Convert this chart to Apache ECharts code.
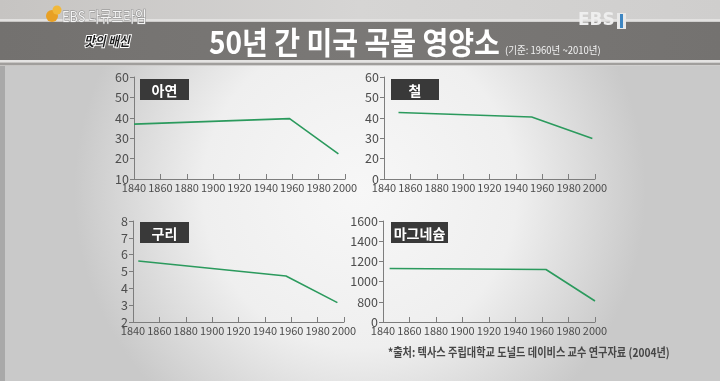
<!DOCTYPE html>
<html><head><meta charset="utf-8">
<script src="https://cdn.jsdelivr.net/npm/echarts@6/dist/echarts.min.js"></script>
<style>html,body{margin:0;padding:0;background:#d8d8d8}#c{width:720px;height:381px}</style>
</head><body><div id="c"></div>
<script>
// ---- data ----
const xTicks = [1840, 1860, 1880, 1900, 1920, 1940, 1960, 1980, 2000];
const panelTitles = ['아연', '철', '구리', '마그네슘'];
const zincYears = [1840, 1958, 1995];
const zincValues = [36.9, 39.6, 22.3];
const ironYears = [1851, 1952, 1998];
const ironValues = [42.6, 40.4, 29.8];
const copperYears = [1844, 1956, 1995];
const copperValues = [5.62, 4.73, 3.15];
const magnesiumYears = [1845, 1963, 2000];
const magnesiumValues = [1130, 1120, 808];
// y-axis ranges as printed (panels 2 and 4 label their lowest tick "0")
const yRanges = [[10, 60, 10], [10, 60, 10], [2, 8, 1], [600, 1600, 200]];
const yBottomLabels = [null, '0', null, '0'];
const titleText = '50년 간 미국 곡물 영양소';
const subText = '(기준: 1960년 ~2010년)';
const sourceText = '*출처: 텍사스 주립대학교 도널드 데이비스 교수 연구자료 (2004년)';

const chart = echarts.init(document.getElementById('c'), null, {renderer: 'canvas'});
const grids = [
  {left: 134, top: 77, width: 211, height: 102},
  {left: 384, top: 77, width: 211, height: 102},
  {left: 133, top: 221, width: 211, height: 101},
  {left: 383, top: 221, width: 212, height: 101}
];
const axisFont = "'Noto Sans CJK KR','Noto Sans',sans-serif";
const lineColor = '#2b9a5d';
const axisColor = '#7d7d7d';
const series = [[zincYears, zincValues], [ironYears, ironValues], [copperYears, copperValues], [magnesiumYears, magnesiumValues]];

const xAxis = grids.map((g, i) => ({
  type: 'value', gridIndex: i, min: xTicks[0], max: xTicks[xTicks.length - 1], interval: 20,
  axisLine: {lineStyle: {color: axisColor, width: 1}},
  axisTick: {show: true, inside: true, length: 5, lineStyle: {color: axisColor}},
  splitLine: {show: false},
  axisLabel: {color: '#4d4d4d', fontSize: 11, fontFamily: axisFont, margin: 3,
    interval: 0, showMinLabel: true, showMaxLabel: true, hideOverlap: false, formatter: v => String(v)}
}));
const yAxis = grids.map((g, i) => ({
  type: 'value', gridIndex: i, min: yRanges[i][0], max: yRanges[i][1], interval: yRanges[i][2],
  axisLine: {show: true, lineStyle: {color: axisColor, width: 1}},
  axisTick: {show: true, length: 4, lineStyle: {color: axisColor}},
  splitLine: {show: false},
  axisLabel: {color: '#4d4d4d', fontSize: 12.5, fontFamily: axisFont, margin: 5,
    showMinLabel: true, showMaxLabel: true,
    formatter: v => (v === yRanges[i][0] && yBottomLabels[i] !== null) ? yBottomLabels[i] : String(v)}
}));
const seriesOpt = series.map((s, i) => ({
  type: 'line', xAxisIndex: i, yAxisIndex: i, showSymbol: false, symbol: 'none',
  lineStyle: {color: lineColor, width: 1.6}, z: 5,
  data: s[0].map((y, k) => [y, s[1][k]])
}));

const boxes = [[140, 79, 49, 21], [391, 79, 48, 21], [140, 222, 49, 21], [391, 222, 57, 21]];
const graphic = [
  {type: 'rect', z: -100, shape: {x: 0, y: 0, width: 720, height: 381},
   style: {fill: {type: 'radial', x: 0.5, y: 0.5, r: 0.75, colorStops: [{offset: 0, color: '#f7f7f7'}, {offset: 0.55, color: '#efefef'}, {offset: 1, color: '#c9c9c9'}]}}},
  {type: 'rect', z: -99, shape: {x: 0, y: 0, width: 720, height: 66},
   style: {fill: {type: 'linear', x: 0, y: 0, x2: 1, y2: 0, colorStops: [{offset: 0, color: '#c6c4c2'}, {offset: 0.5, color: '#d6d5d4'}, {offset: 1, color: '#cfcecd'}]}}},
  {type: 'rect', z: -98, shape: {x: 0, y: 19, width: 720, height: 2}, style: {fill: '#e2e1e0'}},
  {type: 'rect', z: -98, shape: {x: 0, y: 22, width: 720, height: 38},
   style: {fill: {type: 'linear', x: 0, y: 0, x2: 1, y2: 0, colorStops: [{offset: 0, color: '#73716f'}, {offset: 0.5, color: '#7a7876'}, {offset: 1, color: '#747270'}]}}},
  {type: 'rect', z: -98, shape: {x: 0, y: 60, width: 720, height: 2}, style: {fill: '#e4e3e2'}},
  {type: 'rect', z: -98, shape: {x: 0, y: 63, width: 720, height: 2}, style: {fill: '#a09e9c'}},
  {type: 'rect', z: -98, shape: {x: 0, y: 66, width: 5, height: 315}, style: {fill: '#a9a9a9'}},
  // title
  {type: 'text', z: 50, x: 209, y: 42, scaleX: 0.905,
   style: {text: titleText, fill: '#ffffff', font: "bold 31px 'Noto Sans CJK KR'", textVerticalAlign: 'middle', textAlign: 'left'}},
  {type: 'text', z: 50, x: 505, y: 50, scaleX: 0.95,
   style: {text: subText, fill: '#f2f2f2', font: "10px 'Noto Sans CJK KR'", textVerticalAlign: 'middle', textAlign: 'left'}},
  // logos
  {type: 'circle', z: 50, shape: {cx: 52, cy: 16, r: 6}, style: {fill: '#e8a024'}},
  {type: 'circle', z: 50, shape: {cx: 57, cy: 10, r: 4.5}, style: {fill: '#f1b83a'}},
  {type: 'text', z: 50, x: 62, y: 16, scaleX: 0.85,
   style: {text: 'EBS 다큐프라임', fill: '#f4f4f4', stroke: '#8a8a8a', lineWidth: 1, font: "15px 'Noto Sans CJK KR'", textVerticalAlign: 'middle'}},
  {type: 'text', z: 50, x: 84, y: 41, scaleX: 0.9,
   style: {text: '맛의 배신', fill: '#1e1e1e', stroke: '#ffffff', lineWidth: 2, font: "italic bold 13px 'Noto Sans CJK KR'", textVerticalAlign: 'middle'}},
  {type: 'text', z: 50, x: 578, y: 21,
   style: {text: 'EBS', fill: '#eeeeee', font: "bold 17px 'DejaVu Sans'", textVerticalAlign: 'middle'}},
  {type: 'rect', z: 50, shape: {x: 617, y: 13, width: 9, height: 16}, style: {fill: '#e9e9e9'}},
  {type: 'rect', z: 51, shape: {x: 620, y: 14, width: 3, height: 14}, style: {fill: '#3e86c2'}},
  // source
  {type: 'text', z: 50, x: 388, y: 352, scaleX: 0.85,
   style: {text: sourceText, fill: '#464646', font: "bold 12px 'Noto Sans CJK KR'", textVerticalAlign: 'middle'}}
];
boxes.forEach((b, i) => {
  graphic.push({type: 'rect', z: 50, shape: {x: b[0], y: b[1], width: b[2], height: b[3]}, style: {fill: '#393939'}});
  graphic.push({type: 'text', z: 51, x: b[0] + b[2] / 2, y: b[1] + b[3] / 2 + 1,
    style: {text: panelTitles[i], fill: '#ffffff', font: "bold 14px 'Noto Sans CJK KR'", textAlign: 'center', textVerticalAlign: 'middle'}});
});

chart.setOption({
  animation: false,
  grid: grids.map(g => Object.assign({containLabel: false}, g)),
  xAxis, yAxis, series: seriesOpt, graphic
});
</script></body></html>
